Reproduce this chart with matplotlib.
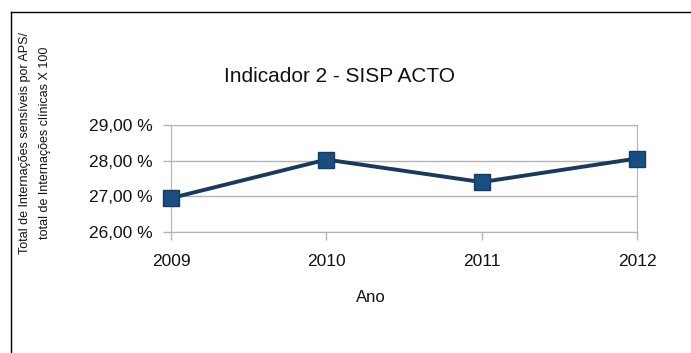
import matplotlib
matplotlib.use("Agg")
import matplotlib.pyplot as plt
from matplotlib.lines import Line2D

years = [2009, 2010, 2011, 2012]
values = [26.95, 28.03, 27.40, 28.06]
yticks = [26, 27, 28, 29]
ytick_labels = ["26,00 %", "27,00 %", "28,00 %", "29,00 %"]

W, H = 691, 353
fig = plt.figure(figsize=(W / 100, H / 100), dpi=100)
fig.patch.set_facecolor("white")

left, right, top, bottom = 171, 637, 125, 232
ax = fig.add_axes([left / W, 1 - bottom / H, (right - left) / W, (bottom - top) / H])

ax.plot(years, values, color="#173a5e", lw=2.8, marker="s", ms=11.5,
        markerfacecolor="#1b4e80", markeredgecolor="#173a5e", zorder=3, clip_on=False)

ax.set_xlim(2009, 2012)
ax.set_ylim(26, 29)
ax.set_xticks(years)
ax.set_xticklabels([str(y) for y in years], fontsize=12.5, family="Liberation Sans")
ax.set_yticks(yticks)
ax.set_yticklabels(ytick_labels, fontsize=12.5, family="Liberation Sans")
ax.grid(axis="y", color="#b4b4b4", lw=1)
for s in ax.spines.values():
    s.set_color("#b4b4b4")
ax.tick_params(axis="both", colors="#b4b4b4", labelcolor="#111111", length=6, width=1)
ax.tick_params(axis="x", pad=10)
ax.tick_params(axis="y", pad=7)

fig.text(339 / W, 1 - 77 / H, "Indicador 2 - SISP ACTO", ha="center", va="center",
         fontsize=15, family="Liberation Sans", color="#111111")
fig.text(371 / W, 1 - 298 / H, "Ano", ha="center", va="center",
         fontsize=12, family="Liberation Sans", color="#111111")
fig.text(25 / W, 1 - 143 / H, "Total de Internações sensíveis por APS/", rotation=90,
         ha="center", va="center", fontsize=9, family="Liberation Sans", color="#111111")
fig.text(45 / W, 1 - 143 / H, "total de Internações clínicas X 100", rotation=90,
         ha="center", va="center", fontsize=9, family="Liberation Sans", color="#111111")

# border lines (top and left)
fig.add_artist(Line2D([11 / W, 1], [1 - 12 / H, 1 - 12 / H], color="black", lw=1))
fig.add_artist(Line2D([11 / W, 11 / W], [0, 1 - 12 / H], color="black", lw=1))

fig.savefig("out.png", dpi=100)
